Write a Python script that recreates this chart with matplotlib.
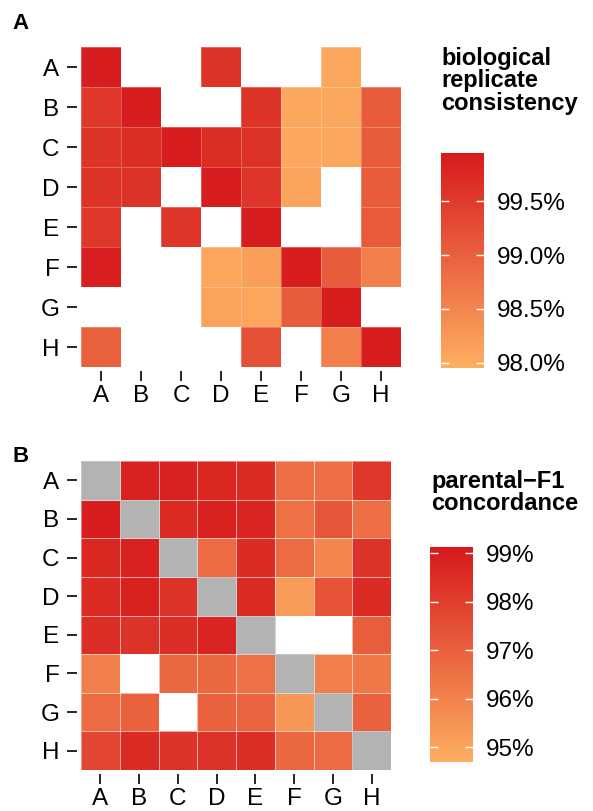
import numpy as np
import matplotlib
matplotlib.use("Agg")
import matplotlib.pyplot as plt
from matplotlib.colors import LinearSegmentedColormap, Normalize
from matplotlib.cm import ScalarMappable

plt.rcParams['font.family'] = ['Liberation Sans', 'DejaVu Sans']

NA = np.nan
samples = ["A", "B", "C", "D", "E", "F", "G", "H"]

# biological replicate consistency (%), rows/cols in sample order
replicate = [
    [99.90, NA,    NA,    99.60, NA,    NA,    98.05, NA],
    [99.55, 99.90, NA,    NA,    99.60, 98.05, 98.05, 99.05],
    [99.60, 99.68, 99.90, 99.68, 99.62, 98.05, 98.05, 99.05],
    [99.60, 99.62, NA,    99.90, 99.58, 98.10, NA,    99.05],
    [99.55, NA,    99.58, NA,    99.90, NA,    NA,    99.08],
    [99.88, NA,    NA,    98.08, 98.15, 99.90, 99.05, 98.60],
    [NA,    NA,    NA,    98.10, 98.08, 99.05, 99.90, NA],
    [99.00, NA,    NA,    NA,    99.20, NA,    98.60, 99.90],
]
replicate_ticks = [98.0, 98.5, 99.0, 99.5]
replicate_range = (97.95, 99.95)

# parental-F1 concordance (%); diagonal is a sample against itself
concordance = [
    [NA,   98.9, 98.9, 98.7, 98.6, 96.6, 96.6, 98.2],
    [99.0, NA,   98.6, 98.9, 98.8, 96.5, 97.3, 96.6],
    [98.7, 98.9, NA,   96.7, 98.6, 96.7, 95.9, 98.4],
    [98.6, 98.9, 98.4, NA,   98.6, 95.3, 97.4, 98.6],
    [98.5, 98.4, 98.5, 98.8, NA,   NA,   NA,   97.1],
    [96.1, NA,   96.8, 96.8, 96.5, NA,   96.1, 96.3],
    [96.7, 97.0, NA,   97.0, 96.9, 95.4, NA,   97.0],
    [97.8, 98.6, 98.4, 98.4, 98.5, 96.8, 96.7, NA],
]
concordance_ticks = [95, 96, 97, 98, 99]
concordance_range = (94.7, 99.13)

cmap = LinearSegmentedColormap.from_list("orange_red", ["#FDAE61", "#D7191C"])
cmap.set_bad("white")
grey = LinearSegmentedColormap.from_list("grey", ["#B3B3B3", "#B3B3B3"])

W, H = 593, 811
fig = plt.figure(figsize=(W / 100, H / 100), dpi=100)


def px_axes(x0, y0, x1, y1):
    return fig.add_axes([x0 / W, 1 - y1 / H, (x1 - x0) / W, (y1 - y0) / H])


def heatmap(ax, values, vrange, grey_diag):
    data = np.ma.masked_invalid(np.array(values, dtype=float))
    n = len(samples)
    edges = np.arange(n + 1)
    norm = Normalize(*vrange)
    ax.pcolormesh(edges, edges, data, cmap=cmap, norm=norm,
                  edgecolors=(1, 1, 1, 0.25), linewidth=0.4)
    if grey_diag:
        diag = np.ma.masked_where(~np.eye(n, dtype=bool), np.ones((n, n)))
        ax.pcolormesh(edges, edges, diag, cmap=grey,
                      edgecolors=(1, 1, 1, 0.25), linewidth=0.4)
    ax.set_xlim(0, n)
    ax.set_ylim(n, 0)
    ax.set_xticks(np.arange(n) + 0.5)
    ax.set_yticks(np.arange(n) + 0.5)
    ax.set_xticklabels(samples)
    ax.set_yticklabels(samples)
    for s in ax.spines.values():
        s.set_visible(False)
    ax.spines['left'].set_position(('outward', 3))
    ax.spines['bottom'].set_position(('outward', 3))
    ax.tick_params(axis='both', length=7.5, width=1.2, color='black',
                   labelsize=17.5)
    ax.tick_params(axis='y', pad=5)
    ax.tick_params(axis='x', pad=2.3)
    return norm


def colorbar(cax, norm, ticks, fmt):
    sm = ScalarMappable(norm=norm, cmap=cmap)
    cb = fig.colorbar(sm, cax=cax, orientation='vertical')
    cb.outline.set_visible(False)
    cb.set_ticks(ticks)
    cb.set_ticklabels([fmt.format(t) for t in ticks])
    cax.tick_params(axis='y', direction='in', left=True, right=True,
                    color='white', length=6, width=1, labelsize=17.5, pad=9)
    return cb


# panel A
axA = px_axes(81, 47, 401, 367)
normA = heatmap(axA, replicate, replicate_range, grey_diag=False)
caxA = px_axes(441, 153, 484, 368)
colorbar(caxA, normA, replicate_ticks, "{:.1f}%")
fig.text(441 / W, 1 - 47 / H, "biological\nreplicate\nconsistency",
         fontsize=17, fontweight='bold', ha='left', va='top', linespacing=0.97)
fig.text(12 / W, 1 - 13 / H, "A", fontsize=16, fontweight='bold',
         ha='left', va='top')

# panel B
axB = px_axes(81, 461, 391, 770)
normB = heatmap(axB, concordance, concordance_range, grey_diag=True)
caxB = px_axes(430, 547, 473, 762)
colorbar(caxB, normB, concordance_ticks, "{:.0f}%")
fig.text(431 / W, 1 - 470 / H, "parental\u2212F1\nconcordance",
         fontsize=17, fontweight='bold', ha='left', va='top', linespacing=0.97)
fig.text(12 / W, 1 - 446 / H, "B", fontsize=16, fontweight='bold',
         ha='left', va='top')

fig.savefig("out.png", dpi=100, facecolor='white')
